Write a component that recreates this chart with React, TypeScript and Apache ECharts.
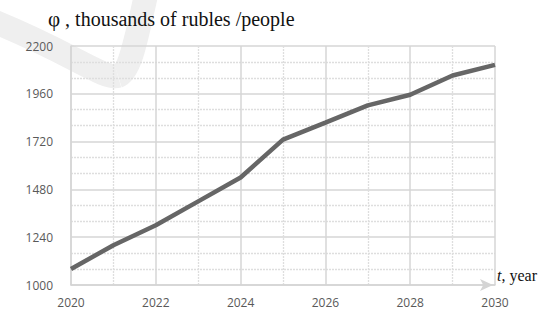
import React, { useEffect, useRef } from "react";
import * as echarts from "echarts";

const years = [2020, 2021, 2022, 2023, 2024, 2025, 2026, 2027, 2028, 2029, 2030];
const values = [1080, 1200, 1300, 1420, 1540, 1730, 1815, 1902, 1955, 2052, 2105];
const yTicks = [1000, 1240, 1480, 1720, 1960, 2200];
const xTicks = [2020, 2022, 2024, 2026, 2028, 2030];

export default function App() {
  const ref = useRef<HTMLDivElement>(null);
  useEffect(() => {
    if (!ref.current) return;
    const chart = echarts.init(ref.current, null, { renderer: "svg" });
    chart.setOption({
      animation: false,
      backgroundColor: "#ffffff",
      grid: { left: 71, right: 53, top: 46, bottom: 29 },
      graphic: [
        {
          type: "bezierCurve",
          shape: { x1: -10, y1: 20, x2: 118, y2: 76, cpx1: 70, cpy1: 52, cpx2: 104, cpy2: 80 },
          style: { stroke: "#efefef", lineWidth: 24, fill: "none", lineCap: "butt" },
          z: -10,
        },
        {
          type: "bezierCurve",
          shape: { x1: 118, y1: 76, x2: 146, y2: -5, cpx1: 130, cpy1: 72, cpx2: 136, cpy2: 40 },
          style: { stroke: "#efefef", lineWidth: 24, fill: "none", lineCap: "butt" },
          z: -10,
        },
        {
          type: "text",
          left: 48,
          top: 8,
          style: {
            text: "{p|φ} , thousands of rubles /people",
            font: '20px "Liberation Serif"',
            fill: "#111",
            rich: { p: { fontFamily: "Liberation Serif", fontSize: 21, fill: "#111" } },
          },
        },
        {
          type: "text",
          left: 497,
          top: 267,
          style: {
            text: "{i|t}, year",
            font: '16px "Liberation Serif"',
            fill: "#111",
            rich: { i: { fontStyle: "italic", fontFamily: "Liberation Serif", fontSize: 16, fill: "#111" } },
          },
        },
      ],
      xAxis: {
        type: "value",
        min: xTicks[0],
        max: xTicks[xTicks.length - 1],
        interval: 2,
        axisLine: {
          show: true,
          symbol: ["none", "arrow"],
          symbolSize: [9, 13],
          symbolOffset: [0, -2],
          lineStyle: { color: "#d4d4d4", width: 1.5 },
        },
        axisTick: { show: false },
        axisLabel: {
          color: "#595959",
          fontFamily: "Open Sans",
          fontSize: 12,
          margin: 11,
          formatter: (v: number) => String(v),
        },
        splitLine: { show: true, lineStyle: { color: "#d6d6d6", width: 1.5 } },
        minorTick: { show: false, splitNumber: 2 },
        minorSplitLine: { show: true, lineStyle: { color: "#dedede", width: 1.3, type: [2, 1] } },
      },
      yAxis: {
        type: "value",
        min: yTicks[0],
        max: yTicks[yTicks.length - 1],
        interval: 240,
        axisLine: { show: true, lineStyle: { color: "#d6d6d6", width: 1.5 } },
        axisTick: { show: false },
        axisLabel: {
          color: "#595959",
          fontFamily: "Open Sans",
          fontSize: 12,
          margin: 18,
          formatter: (v: number) => String(v),
        },
        splitLine: { show: true, lineStyle: { color: "#d6d6d6", width: 1.5 } },
        minorTick: { show: false, splitNumber: 3 },
        minorSplitLine: { show: true, lineStyle: { color: "#dedede", width: 1.3, type: [2, 1] } },
      },
      series: [
        {
          type: "line",
          data: years.map((y, i) => [y, values[i]]),
          showSymbol: false,
          lineStyle: { color: "#666666", width: 4.5 },
          z: 5,
        },
      ],
    });
    return () => chart.dispose();
  }, []);
  return <div ref={ref} style={{ width: 548, height: 314, position: "absolute", left: 0, top: 0 }} />;
}
